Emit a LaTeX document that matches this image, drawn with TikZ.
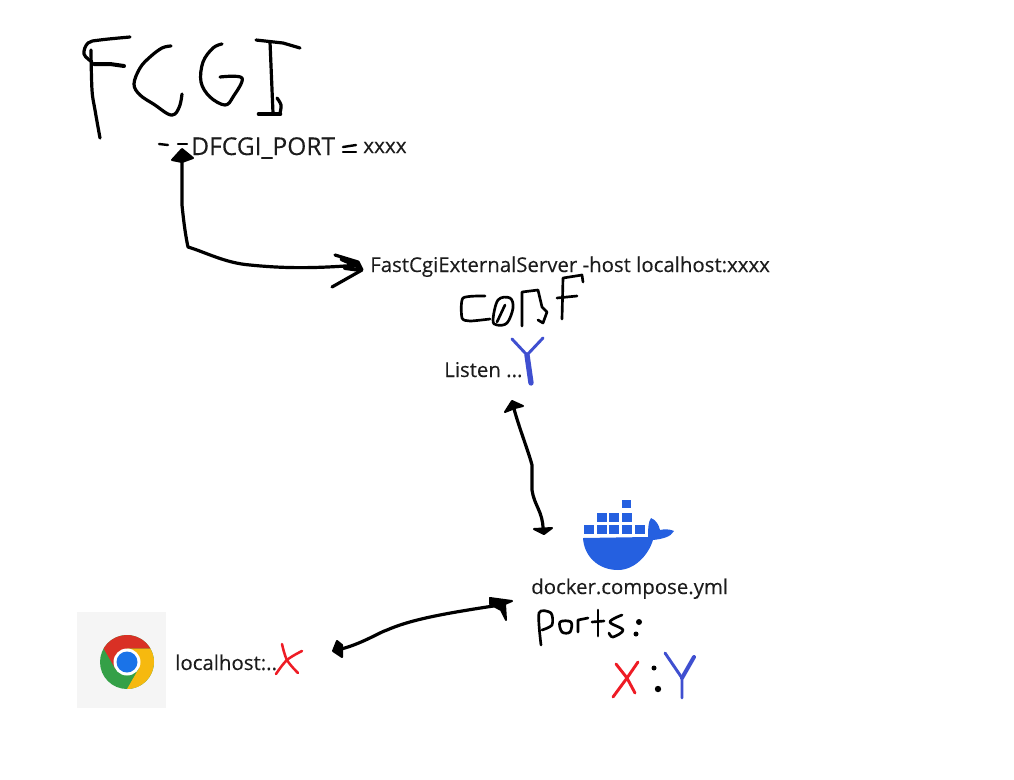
\documentclass[tikz,border=0pt]{standalone}
\usepackage{fontspec}
\setmainfont[FakeBold=0.25]{Open Sans}
\usetikzlibrary{calc}
\definecolor{penblue}{HTML}{3F4FD0}
\definecolor{penred}{HTML}{EE1C25}
\definecolor{dockerblue}{HTML}{2560E0}
\definecolor{inktext}{HTML}{1C1C1C}
\definecolor{chromered}{HTML}{D93025}
\definecolor{chromegreen}{HTML}{34A047}
\definecolor{chromeyellow}{HTML}{F6B90F}
\definecolor{chromeblue}{HTML}{1A73E8}
\tikzset{
    pen/.style={draw=black, line width=2.4pt, line cap=round, line join=round},
    bluepen/.style={draw=penblue, line width=2.2pt, line cap=round, line join=round},
    redpen/.style={draw=penred, line width=2.2pt, line cap=round, line join=round},
    blob/.style={fill=black, draw=black, line width=1.5pt, line join=round},
    label/.style={anchor=base west, inner sep=0pt, text=inktext, font=\fontsize{15.3}{17}\selectfont},
    crate/.style={fill=dockerblue}
}
\begin{document}
\begin{tikzpicture}[x=0.75pt, y=-0.75pt]
    \useasboundingbox (0,0) rectangle (1014,779);

    % Nodes
    \node[label, font=\fontsize{18.4}{20}\selectfont] (port) at (191,155) {DFCGI\_PORT};
    \node[label, font=\fontsize{15.5}{17}\selectfont] (portval) at (363,153) {xxxx};
    \node[label] (server) at (370,272) {FastCgiExternalServer -host localhost:xxxx};
    \node[label] (listen) at (444,377) {Listen ...};
    \node[label] (compose) at (531,594) {docker.compose.yml};
    \node[label] (browser) at (175,670) {localhost:..};

    \coordinate (porttip) at (182,156);
    \coordinate (servertip) at (358,265);
    \coordinate (listentip) at (513,405);
    \coordinate (dockertip) at (543,529);
    \coordinate (browsertip) at (337,650);
    \coordinate (portstip) at (500,605);

    % FCGI
    \draw[pen] plot[smooth, tension=0.6] coordinates {(130,37) (100,40) (88,43) (84,54) (92,62)};
    \draw[pen] plot[smooth, tension=0.6] coordinates {(91,50) (92,90) (95,110) (100,138)};
    \draw[pen, line width=3pt] (94,64) -- (110,64) -- (124,66);
    \draw[pen] plot[smooth, tension=0.6] coordinates {(171,46) (162,48) (150,57) (140,68) (134,84) (140,95) (155,105) (168,114) (175,114) (180,105) (182,94)};
    \draw[pen] plot[smooth, tension=0.6] coordinates {(222,44) (213,48) (203,62) (201,82) (210,97) (225,105) (233,97) (242,78) (220,77)};
    \draw[pen] (256,40) -- (283,43) -- (300,48);
    \draw[pen] (270,42) -- (273,113);
    \draw[pen] plot[smooth, tension=0.6] coordinates {(277,98) (281,105) (280,113)};
    \draw[pen, line width=3.5pt] (259,114) -- (280,114);

    % Marks round DFCGI_PORT
    \draw[pen, line width=1.8pt] (159,144) -- (168,145);
    \draw[pen, line width=1.8pt] (178,144) -- (187,144);
    \draw[pen, line width=1.8pt] (343,147) -- (356,145);
    \draw[pen, line width=1.8pt] (343,152) -- (356,152);

    % conf
    \draw[pen, line width=2pt] plot[smooth, tension=0.4] coordinates {(485,296) (463,298) (462,318) (470,321) (490,319)};
    \draw[pen, line width=2pt] plot[smooth cycle, tension=0.6] coordinates {(493,320) (497,325) (507,323) (513,308) (510,298) (498,300)};
    \draw[pen, line width=2pt] (505,305) -- (497,322);
    \draw[pen, line width=2pt] (522,326) -- (522,292) -- (538,290) -- (542,307) -- (547,312) -- (543,323) -- (538,320);
    \draw[pen, line width=2pt] (562,319) -- (563,278) -- (582,275) -- (583,282);
    \draw[pen, line width=2pt] (557,298) -- (577,296);

    % Y of Listen
    \draw[bluepen] (512,339) -- (527,355) -- (543,338);
    \draw[bluepen, line width=4pt] (527,355) -- (531,383);

    % Docker whale
    \fill[crate] (622,500) rectangle (631,508);
    \foreach \xa in {597,609,622} {
        \fill[crate] (\xa,513) rectangle ++(10,8.5);
    }
    \foreach \xa in {584,597,609,622,635} {
        \fill[crate] (\xa,525) rectangle ++(10,8.5);
    }
    \fill[dockerblue] (583,538) -- (648,537) .. controls (648,530) and (648,522) .. (651,518)
        .. controls (656,520) and (659,525) .. (660,530) .. controls (664,529) and (670,529) .. (674,531)
        .. controls (671,537) and (662,539) .. (653,540) .. controls (648,556) and (634,570) .. (618,570)
        .. controls (598,570) and (584,556) .. (583,538) -- cycle;

    % ports
    \draw[pen, line width=2pt] plot[smooth, tension=0.5] coordinates {(541,645) (539,613) (551,613) (552,625) (542,630)};
    \draw[pen, line width=2pt] plot[smooth cycle, tension=0.6] coordinates {(560,622) (571,622) (570,632) (562,632)};
    \draw[pen, line width=2pt] (578,632) -- (578,620) -- (588,618);
    \draw[pen, line width=2pt] (598,610) -- (598,636);
    \draw[pen, line width=2pt] (592,622) -- (604,621);
    \draw[pen, line width=2pt] plot[smooth, tension=0.6] coordinates {(622,615) (610,622) (623,630) (613,637) (609,633)};
    \fill (639,622) circle (3);
    \fill (636,634) circle (2.5);

    % X : Y
    \draw[redpen] (638,662) -- (627,678) -- (613,697);
    \draw[redpen] (616,664) -- (627,678) -- (635,693);
    \fill (654,668) circle (2.5);
    \fill (658,689) circle (3.2);
    \draw[bluepen] (665,653) -- (682,678) -- (682,698);
    \draw[bluepen, line width=3pt] (682,678) -- (694,657);

    % Chrome icon
    \fill[black!4] (77,612) rectangle (166,708);
    \coordinate (chrome) at (127,662);
    \fill[chromegreen] (chrome) circle (27);
    \fill[chromered] ($(chrome)+(150:13.5)$) -- ($(chrome)+(-150:27)$) arc (-150:-30:27) -- ($(chrome)+(-90:13.5)$) -- cycle;
    \fill[chromeyellow] ($(chrome)+(-30:27)$) arc (-30:90:27) -- ($(chrome)+(30:13.5)$) -- ($(chrome)+(-90:13.5)$) -- cycle;
    \fill[white] (chrome) circle (13.5);
    \fill[chromeblue] (chrome) circle (10.5);

    % X of localhost
    \draw[redpen, line width=1.9pt] plot[smooth, tension=0.6] coordinates {(282,644) (287,660) (298,673)};
    \draw[redpen, line width=1.9pt] plot[smooth, tension=0.6] coordinates {(302,651) (287,660) (276,674)};

    % Edges
    \draw[pen] (porttip) -- (182,205) .. controls (184,225) and (186,238) .. (188,247)
        .. controls (205,252) and (225,263) .. (250,265) .. controls (280,268) and (310,269) .. (servertip);
    \draw[blob] (172,160) -- (182,149) -- (193,158) -- (182,162) -- cycle;
    \draw[pen] (335,255) -- (358,262) -- (362,270) -- (332,287);
    \draw[pen, line width=3.5pt] (342,259) -- (358,266);
    \draw[pen, line width=3pt] (345,268) -- (360,270);

    \draw[pen] (listentip) .. controls (518,425) and (528,450) .. (532,465) -- (532,490)
        .. controls (534,505) and (543,512) .. (dockertip);
    \draw[blob] (505,412) -- (512,401) -- (523,406) -- (515,408) -- cycle;
    \draw[blob] (534,529) -- (552,528) -- (544,534) -- cycle;

    \draw[pen] (browsertip) .. controls (360,645) and (380,632) .. (387,630)
        .. controls (410,620) and (440,614) .. (portstip);
    \draw[blob] (333,651) -- (337,641) -- (342,645) -- (342,657) -- cycle;
    \draw[blob] (490,598) -- (512,601) -- (505,604) -- (506,620) -- (501,610) -- (490,604) -- cycle;
\end{tikzpicture}
\end{document}
